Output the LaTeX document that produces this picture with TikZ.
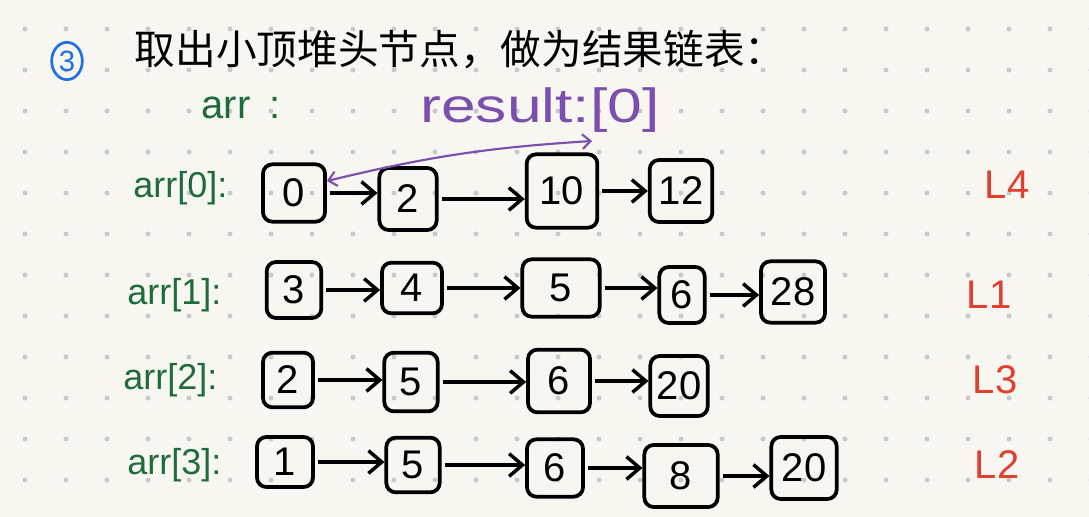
\documentclass[tikz,border=0pt]{standalone}
\usepackage{fontspec}
\setmainfont{Liberation Sans}
\newfontfamily\cjkfont{Noto Sans CJK SC}
\newfontfamily\resfont[FakeStretch=1.3]{Liberation Sans}
\usetikzlibrary{arrows.meta,shapes.geometric}
\definecolor{paper}{HTML}{F8F6F1}
\definecolor{dotc}{HTML}{C9C9C9}
\definecolor{inkgreen}{HTML}{1E6B3C}
\definecolor{inkpurple}{HTML}{7B4FAE}
\definecolor{inkred}{HTML}{E2402E}
\definecolor{inkblue}{HTML}{1F6FE5}
\begin{document}
\begin{tikzpicture}[x=0.75pt,y=-0.75pt,
 box/.style={draw, line width=2.8pt, rounded corners=7pt, inner sep=0pt, font=\fontsize{30}{30}\selectfont},
 link/.style={line width=2.6pt, -{Straight Barb[length=10pt,width=17pt]}},
 lbl/.style={text=inkgreen, font=\fontsize{27}{27}\selectfont, anchor=east},
 tag/.style={text=inkred, font=\fontsize{30}{30}\selectfont}]
\fill[paper] (0,0) rectangle (1089,517);
\useasboundingbox (0,0) rectangle (1089,517);
\foreach \i in {0,...,26}{\foreach \j in {0,...,11}{\fill[dotc] (25+41*\i, 29+41*\j) circle[radius=2.5];}}

% heading
\node[ellipse, draw=inkblue, line width=2pt, text=inkblue, minimum width=23pt, minimum height=28pt, inner sep=0pt, font=\fontsize{22}{22}\selectfont] (num) at (67,61) {3};
\node[anchor=west, font=\cjkfont\fontsize{30.5}{30.5}\selectfont] (title) at (130,50) {取出小顶堆头节点，做为结果链表：};
\node[lbl, font=\fontsize{30}{30}\selectfont] (arr) at (285,108) {arr\hspace{14pt}:};
\node[text=inkpurple, font=\resfont\fontsize{36}{36}\selectfont] (res) at (540,110) {result:[0]};

% row labels
\node[lbl] (l0) at (232,188) {arr[0]:};
\node[lbl] (l1) at (226,295) {arr[1]:};
\node[lbl] (l2) at (222,380) {arr[2]:};
\node[lbl] (l3) at (226,465) {arr[3]:};

% row 0
\node[box, minimum width=46.5pt, minimum height=43pt] (a0) at (294,193) {0};
\node[box, minimum width=43pt, minimum height=46.5pt] (a1) at (408,199) {2};
\node[box, minimum width=53pt, minimum height=55pt] (a2) at (562,191) {10};
\node[box, minimum width=47pt, minimum height=46.5pt] (a3) at (681,191) {12};
% row 1
\node[box, minimum width=41pt, minimum height=42pt] (b0) at (294,290) {3};
\node[box, minimum width=45pt, minimum height=38pt] (b1) at (412,288) {4};
\node[box, minimum width=58pt, minimum height=43pt] (b2) at (561,288) {5};
\node[box, minimum width=34pt, minimum height=42pt] (b3) at (682,295) {6};
\node[box, minimum width=48pt, minimum height=46pt] (b4) at (793,292) {28};
% row 2
\node[box, minimum width=37.5pt, minimum height=41pt] (c0) at (288,380) {2};
\node[box, minimum width=40pt, minimum height=44pt] (c1) at (411,382) {5};
\node[box, minimum width=46.5pt, minimum height=47pt] (c2) at (559,381) {6};
\node[box, minimum width=43pt, minimum height=45pt] (c3) at (679,386) {20};
% row 3
\node[box, minimum width=42pt, minimum height=37.5pt] (d0) at (285,462) {1};
\node[box, minimum width=40pt, minimum height=41pt] (d1) at (413,465) {5};
\node[box, minimum width=42pt, minimum height=43pt] (d2) at (555,468) {6};
\node[box, minimum width=55pt, minimum height=46.5pt] (d3) at (681,476) {8};
\node[box, minimum width=49pt, minimum height=46.5pt] (d4) at (804,468) {20};

\foreach \s/\t in {a0/a1,a1/a2,a2/a3,b0/b1,b1/b2,b2/b3,b3/b4,c0/c1,c1/c2,c2/c3,d0/d1,d1/d2,d2/d3,d3/d4}
  \draw[link] (\s.east) ++(3,0) coordinate (tmp) -- (tmp -| \t.west);

% result arrow
\coordinate (rtip) at (592,141);
\draw[inkpurple, line width=1.6pt, {Straight Barb[length=6pt,width=11pt]}-{Straight Barb[length=6pt,width=11pt]}] (rtip) to[bend right=5] (a0.20);

% list tags
\node[tag] (t0) at (1007,185) {L4};
\node[tag] (t1) at (989,295) {L1};
\node[tag] (t2) at (995,380) {L3};
\node[tag] (t3) at (997,465) {L2};
\end{tikzpicture}
\end{document}
